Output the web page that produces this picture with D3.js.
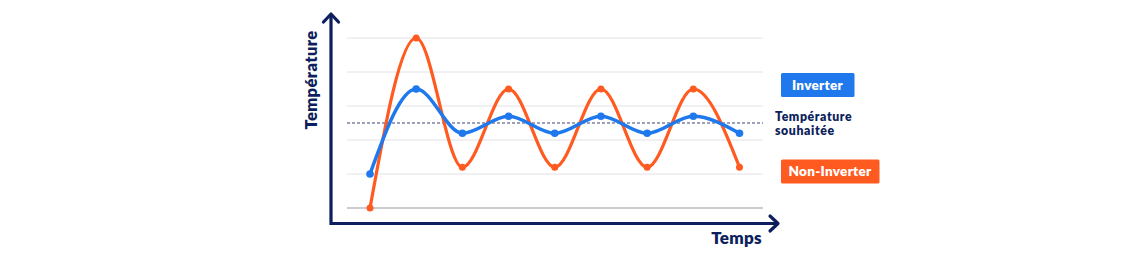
<!DOCTYPE html>
<html><head><meta charset="utf-8">
<script src="https://cdn.jsdelivr.net/npm/d3@7"></script>
<style>html,body{margin:0;padding:0;background:#fff;}svg{display:block;}</style>
</head><body>
<svg id="c" width="1138" height="263"></svg>
<script>
const steps = [0,1,2,3,4,5,6,7,8];
const nonInverter = [0, 5, 1.2, 3.5, 1.2, 3.5, 1.2, 3.5, 1.2];
const inverter = [1.0, 3.5, 2.2, 2.7, 2.2, 2.7, 2.2, 2.7, 2.2];
const gridValues = [0,1,2,3,4,5];
const target = 2.5;
const labels = {y:"Température", x:"Temps", inv:"Inverter", non:"Non-Inverter", target:["Température","souhaitée"]};

const navy = "#0d1f5c", blue = "#1f78ec", orange = "#ff5a1f";
const svg = d3.select("#c");
const x = d3.scaleLinear().domain([0,8]).range([370,739.5]);
const y = d3.scaleLinear().domain([0,5]).range([208,38]);
const font = "Lato, 'Open Sans', sans-serif";

// grid
svg.append("g").selectAll("line").data(gridValues).join("line")
  .attr("x1",347).attr("x2",763).attr("y1",d=>y(d)).attr("y2",d=>y(d))
  .attr("stroke",d=>d===0?"#bdbdc2":"#e2e2e6").attr("stroke-width",d=>d===0?1.5:1);

// target dashed
svg.append("line").attr("x1",347).attr("x2",763).attr("y1",y(target)).attr("y2",y(target))
  .attr("stroke","#3a4575").attr("stroke-width",1.2).attr("stroke-dasharray","3,2");

const line = d3.line().x((d,i)=>x(steps[i])).y(d=>y(d)).curve(d3.curveMonotoneX);
svg.append("path").datum(nonInverter).attr("d",line).attr("fill","none").attr("stroke",orange).attr("stroke-width",3.2);
svg.append("g").selectAll("circle").data(nonInverter).join("circle")
  .attr("cx",(d,i)=>x(steps[i])).attr("cy",d=>y(d)).attr("r",3.5).attr("fill",orange);
svg.append("path").datum(inverter).attr("d",line).attr("fill","none").attr("stroke",blue).attr("stroke-width",3.5);
svg.append("g").selectAll("circle").data(inverter).join("circle")
  .attr("cx",(d,i)=>x(steps[i])).attr("cy",d=>y(d)).attr("r",3.8).attr("fill",blue);

// axes
svg.append("path").attr("d","M331,14 L331,223.5 L778,223.5").attr("fill","none").attr("stroke",navy).attr("stroke-width",3.2);
svg.append("path").attr("d","M323.5,22 L331,14 L338.5,22").attr("fill","none").attr("stroke",navy).attr("stroke-width",3.2).attr("stroke-linecap","round").attr("stroke-linejoin","round");
svg.append("path").attr("d","M770,216 L778,223.5 L770,231").attr("fill","none").attr("stroke",navy).attr("stroke-width",3.2).attr("stroke-linecap","round").attr("stroke-linejoin","round");

svg.append("text").attr("transform","translate(317,80) rotate(-90)").attr("text-anchor","middle")
  .attr("font-family",font).attr("font-weight",800).attr("font-size",16.5).attr("letter-spacing",0.4).attr("fill",navy).text(labels.y);
svg.append("text").attr("x",762).attr("y",244).attr("text-anchor","end")
  .attr("font-family",font).attr("font-weight",800).attr("font-size",17).attr("letter-spacing",0.3).attr("fill",navy).text(labels.x);

// legend boxes
svg.append("rect").attr("x",781).attr("y",73).attr("width",73.5).attr("height",24).attr("rx",1.5).attr("fill",blue);
svg.append("text").attr("x",817.5).attr("y",89.5).attr("text-anchor","middle").attr("font-family",font).attr("font-weight",800).attr("font-size",13.5).attr("letter-spacing",0.3).attr("fill","#fff").text(labels.inv);
svg.append("rect").attr("x",781).attr("y",159.5).attr("width",98.5).attr("height",24).attr("rx",1.5).attr("fill",orange);
svg.append("text").attr("x",830).attr("y",176).attr("text-anchor","middle").attr("font-family",font).attr("font-weight",800).attr("font-size",13.5).attr("letter-spacing",0.3).attr("fill","#fff").text(labels.non);
svg.append("g").selectAll("text").data(labels.target).join("text")
  .attr("x",775).attr("y",(d,i)=>120.5+i*14.5)
  .attr("font-family",font).attr("font-weight",800).attr("font-size",12.3).attr("letter-spacing",0.6).attr("fill",navy).text(d=>d);
</script>
</body></html>
